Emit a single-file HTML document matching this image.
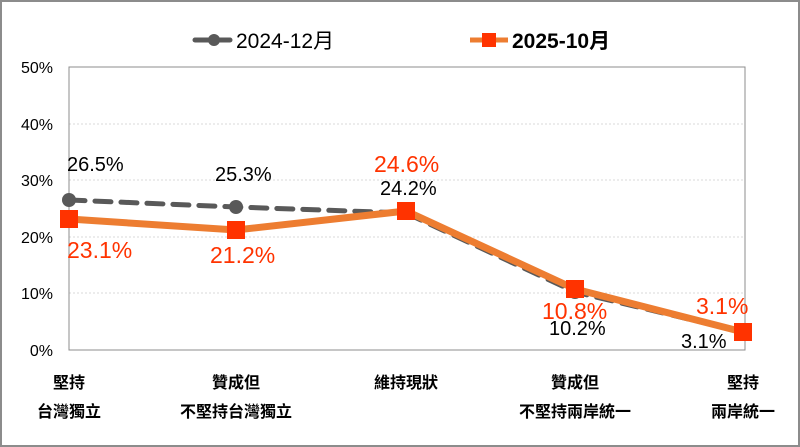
<!DOCTYPE html>
<html><head><meta charset="utf-8"><style>
html,body{margin:0;padding:0;background:#fff}
svg{display:block;font-family:"Liberation Sans","Noto Sans CJK TC",sans-serif}
</style></head><body>
<svg width="800" height="447" viewBox="0 0 800 447">
<rect x="1" y="1" width="798" height="445" fill="#fff" stroke="#8c8c8c" stroke-width="2"/>
<g stroke="#d9d9d9" stroke-width="1" stroke-dasharray="2,2">
<line x1="69" y1="124" x2="745" y2="124"/><line x1="69" y1="180" x2="745" y2="180"/>
<line x1="69" y1="237" x2="745" y2="237"/><line x1="69" y1="293" x2="745" y2="293"/>
</g>
<rect x="69" y="67" width="676" height="283" fill="none" stroke="#8c8c8c" stroke-width="1"/>
<g font-size="16" fill="#000" text-anchor="end">
<text x="53" y="73">50%</text><text x="53" y="130">40%</text><text x="53" y="186">30%</text>
<text x="53" y="243">20%</text><text x="53" y="299">10%</text><text x="53" y="356">0%</text>
</g>
<line x1="195" y1="40" x2="230" y2="40" stroke="#595959" stroke-width="5" stroke-linecap="round"/>
<circle cx="214" cy="40" r="6" fill="#595959"/>
<text x="236" y="48" font-size="21" fill="#000">2024-12月</text>
<line x1="470" y1="40" x2="508" y2="40" stroke="#ed7d31" stroke-width="5"/>
<rect x="482" y="33" width="14" height="14" fill="#ff3300"/>
<text x="512" y="48" font-size="21" font-weight="bold" fill="#000">2025-10月</text>
<polyline points="69,200 236,207 406,213 575,292 743,332" fill="none" stroke="#595959" stroke-width="5" stroke-dasharray="16,10" stroke-linecap="round"/>
<polyline points="69,219 236,230 406,211 575,289 743,332" fill="none" stroke="#ed7d31" stroke-width="7"/>
<g fill="#595959"><circle cx="69" cy="200" r="7"/><circle cx="236" cy="207" r="7"/><circle cx="406" cy="213" r="7"/><circle cx="575" cy="292" r="7"/><circle cx="743" cy="332" r="7"/></g>
<g fill="#ff3300"><rect x="60" y="210" width="18" height="18"/><rect x="227" y="221" width="18" height="18"/><rect x="397" y="202" width="18" height="18"/><rect x="566" y="280" width="18" height="18"/><rect x="734" y="323" width="18" height="18"/></g>
<g font-size="20" fill="#000">
<text x="67" y="171">26.5%</text><text x="215" y="181">25.3%</text><text x="380" y="195">24.2%</text>
<text x="549" y="335">10.2%</text><text x="681" y="348">3.1%</text>
</g>
<g font-size="23" fill="#ff3300">
<text x="67" y="258">23.1%</text><text x="210" y="263">21.2%</text><text x="374" y="172">24.6%</text>
<text x="542" y="319">10.8%</text><text x="696" y="314">3.1%</text>
</g>
<g font-size="16" fill="#000" text-anchor="middle" font-weight="bold">
<text x="69" y="388">堅持</text><text x="69" y="417">台灣獨立</text>
<text x="236" y="388">贊成但</text><text x="236" y="417">不堅持台灣獨立</text>
<text x="406" y="388">維持現狀</text>
<text x="575" y="388">贊成但</text><text x="575" y="417">不堅持兩岸統一</text>
<text x="743" y="388">堅持</text><text x="743" y="417">兩岸統一</text>
</g>
</svg>
</body></html>
